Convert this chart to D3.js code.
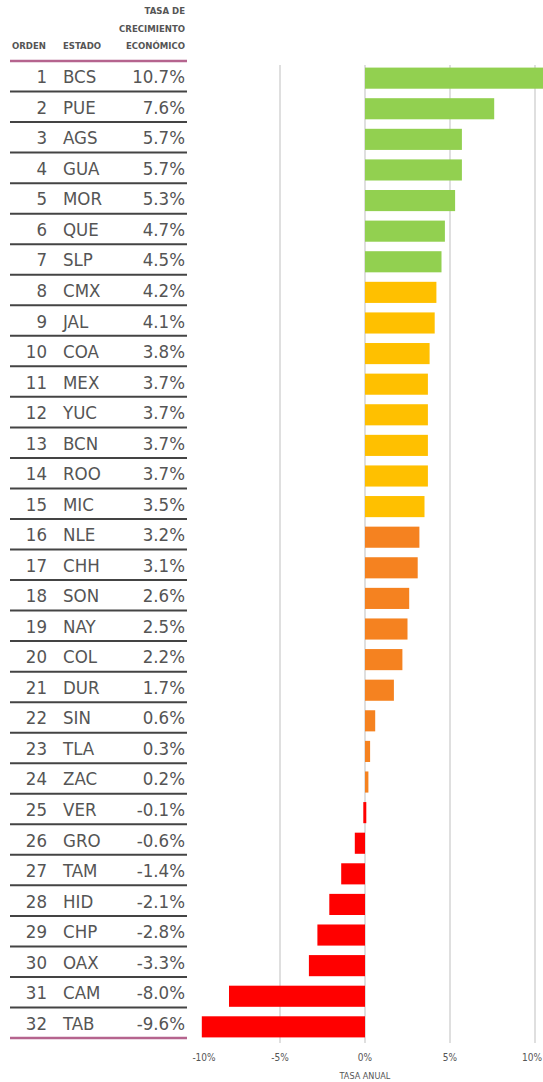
<!DOCTYPE html>
<html>
<head>
<meta charset="utf-8">
<script src="https://cdn.jsdelivr.net/npm/d3@7"></script>
<style>
  body { margin: 0; background: #fff; }
  svg { display: block; }
  text { font-family: "Liberation Sans Narrow", "DejaVu Sans Condensed", "Roboto", sans-serif; fill: #555; }
</style>
</head>
<body>
<svg id="chart" width="543" height="1082"></svg>
<script>
// estados ordenados por crecimiento
let estados = ['BCS','PUE','AGS','GUA','MOR','QUE','SLP','CMX','JAL','COA','MEX','YUC','BCN','ROO','MIC',
               'NLE','CHH','SON','NAY','COL','DUR','SIN','TLA','ZAC','VER','GRO','TAM','HID','CHP','OAX','CAM','TAB']
let tasas = [10.7,7.6,5.7,5.7,5.3,4.7,4.5,4.2,4.1,3.8,3.7,3.7,3.7,3.7,3.5,
             3.2,3.1,2.6,2.5,2.2,1.7,0.6,0.3,0.2,-0.1,-0.6,-1.4,-2.1,-2.8,-3.3,-8.0,-9.6]
// grupo de color de cada estado
let grupos = ['alto','alto','alto','alto','alto','alto','alto',
              'medio','medio','medio','medio','medio','medio','medio','medio',
              'bajo','bajo','bajo','bajo','bajo','bajo','bajo','bajo','bajo',
              'neg','neg','neg','neg','neg','neg','neg','neg']
let ticks = [-10, -5, 0, 5, 10]
let encabezado = ['TASA DE', 'CRECIMIENTO', 'ECONÓMICO']

let data = estados.map((e, i) => ({ orden: i + 1, estado: e, tasa: tasas[i], grupo: grupos[i] }))

let svg = d3.select('#chart')

let color = d3.scaleOrdinal()
    .domain(['alto', 'medio', 'bajo', 'neg'])
    .range(['#92d050', '#ffc000', '#f58220', '#ff0000'])

let x = d3.scaleLinear().domain([-10, 10]).range([195, 535])

// filas de la tabla
let rowY = d3.scaleBand().domain(data.map(d => d.orden)).range([61, 1038])
// barras (un poco desplazadas respecto a la tabla)
let barY = d3.scaleBand().domain(data.map(d => d.orden)).range([63, 1042]).paddingInner(0.31).paddingOuter(0.15)

let fmt = v => (v < 0 ? '-' : '') + Math.abs(v).toFixed(1) + '%'

// cuadricula
svg.append('g')
   .selectAll('line')
   .data(ticks.filter(t => t > -10))
   .enter()
   .append('line')
   .attr('x1', d => x(d)).attr('x2', d => x(d))
   .attr('y1', 65).attr('y2', 1043)
   .attr('stroke', '#d4d4d4')
   .attr('stroke-width', 1.5)

// barras
svg.append('g')
   .selectAll('rect')
   .data(data)
   .enter()
   .append('rect')
   .attr('x', d => x(Math.min(0, d.tasa)))
   .attr('width', d => Math.max(3, Math.abs(x(d.tasa) - x(0))))
   .attr('y', d => barY(d.orden))
   .attr('height', barY.bandwidth())
   .attr('fill', d => color(d.grupo))

// eje x
let axis = svg.append('g')
axis.selectAll('text')
    .data(ticks)
    .enter()
    .append('text')
    .attr('x', d => d === -10 ? x(d) + 9 : (d === 10 ? 542 : x(d)))
    .attr('y', 1061)
    .attr('text-anchor', d => d === 10 ? 'end' : 'middle')
    .style('font-size', '10px')
    .text(d => (d < 0 ? '-' : '') + Math.abs(d) + '%')
axis.append('text')
    .attr('x', x(0))
    .attr('y', 1079)
    .attr('text-anchor', 'middle')
    .style('font-size', '9px')
    .text('TASA ANUAL')

// tabla
let head = svg.append('g').style('font-size', '9.5px').style('font-weight', 'bold').style('fill', '#666')
head.append('text').attr('x', 12).attr('y', 49).text('ORDEN')
head.append('text').attr('x', 63).attr('y', 49).text('ESTADO')
head.selectAll('.enc')
    .data(encabezado)
    .enter()
    .append('text')
    .attr('class', 'enc')
    .attr('x', 185)
    .attr('y', (d, i) => 14 + i * 17.5)
    .attr('text-anchor', 'end')
    .text(d => d)

let filas = svg.append('g')
    .selectAll('g')
    .data(data)
    .enter()
    .append('g')
    .attr('transform', d => 'translate(0,' + (rowY(d.orden) + rowY.bandwidth() / 2) + ')')
    .style('font-size', '18.5px')

filas.append('text').attr('x', 47).attr('y', 7).attr('text-anchor', 'end').text(d => d.orden)
filas.append('text').attr('x', 63).attr('y', 7).text(d => d.estado)
filas.append('text').attr('x', 185).attr('y', 7).attr('text-anchor', 'end').text(d => fmt(d.tasa))

// lineas separadoras
svg.append('g')
   .selectAll('line')
   .data(d3.range(1, 32))
   .enter()
   .append('line')
   .attr('x1', 10).attr('x2', 187)
   .attr('y1', d => rowY(d + 1)).attr('y2', d => rowY(d + 1))
   .attr('stroke', '#444')
   .attr('stroke-width', 2)

svg.append('g')
   .selectAll('line')
   .data([61, 1038])
   .enter()
   .append('line')
   .attr('x1', 10).attr('x2', 187)
   .attr('y1', d => d).attr('y2', d => d)
   .attr('stroke', '#b5648e')
   .attr('stroke-width', 2.5)
</script>
</body>
</html>
